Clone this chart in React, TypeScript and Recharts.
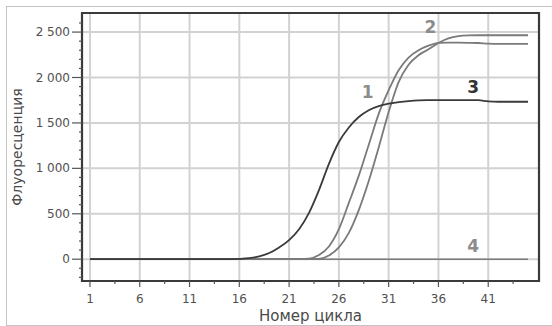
import { LineChart, Line, XAxis, YAxis, CartesianGrid, ReferenceArea, ReferenceDot, Label } from 'recharts';

// ── Data ─────────────────────────────────────────────────
const cycles = [
  1, 2, 3, 4, 5, 6, 7, 8, 9, 10, 11, 12, 13, 14, 15, 16, 17, 18, 19, 20, 21, 22, 23,
  24, 25, 26, 27, 28, 29, 30, 31, 32, 33, 34, 35, 36, 37, 38, 39, 40, 41, 42, 43, 44, 45,
];

// curve 1 (gray, earlier of the steep pair)
const curve1 = [
  0, 0, 0, 0, 0, 0, 0, 0, 0, 0, 0, 0, 0, 0, 0, 0, 0, 0, 0, 0, 0, 0, 5,
  45, 140, 330, 620, 920, 1260, 1600, 1860, 2080, 2220, 2300, 2350, 2382, 2385, 2383, 2382, 2380, 2372, 2370, 2370, 2370, 2370,
];

// curve 2 (gray, later of the steep pair, highest plateau)
const curve2 = [
  0, 0, 0, 0, 0, 0, 0, 0, 0, 0, 0, 0, 0, 0, 0, 0, 0, 0, 0, 0, 0, 0, 0,
  3, 40, 130, 290, 540, 860, 1230, 1620, 1950, 2140, 2245, 2310, 2380, 2430, 2455, 2463, 2465, 2465, 2465, 2465, 2465, 2465,
];

// curve 3 (dark, earliest)
const curve3 = [
  0, 0, 0, 0, 0, 0, 0, 0, 0, 0, 0, 0, 0, 0, 0, 4, 12, 30, 68, 130, 210, 330, 510,
  760, 1050, 1290, 1450, 1565, 1640, 1685, 1712, 1728, 1740, 1748, 1751, 1752, 1752, 1752, 1752, 1750, 1738, 1733, 1733, 1733, 1733,
];

// curve 4 (negative control)
const curve4 = [
  0, 0, 0, 0, 0, 0, 0, 0, 0, 0, 0, 0, 0, 0, 0, 0, 0, 0, 0, 0, 0, 0, 0,
  0, 0, 0, 0, 0, 0, 0, 0, 0, 0, 0, 0, 0, 0, 0, 0, 0, 0, 0, 0, 0, 0,
];

const xMajor = [1, 6, 11, 16, 21, 26, 31, 36, 41];
const xMinor = [3.5, 8.5, 13.5, 18.5, 23.5, 28.5, 33.5, 38.5, 43.5];
const yMajor = [0, 500, 1000, 1500, 2000, 2500];
const yMinor = [
  -200, -100, 100, 200, 300, 400, 600, 700, 800, 900, 1100, 1200, 1300, 1400,
  1600, 1700, 1800, 1900, 2100, 2200, 2300, 2400, 2600,
];

// curve number labels: [text, cycle, value, colour]
const curveLabels: [string, number, number, string][] = [
  ['1', 28.9, 1840, '#8c8c8c'],
  ['2', 35.2, 2560, '#8c8c8c'],
  ['3', 39.5, 1900, '#333333'],
  ['4', 39.5, 150, '#8c8c8c'],
];

const data = cycles.map((c, i) => ({
  cycle: c,
  c1: curve1[i],
  c2: curve2[i],
  c3: curve3[i],
  c4: curve4[i],
}));

const X_DOMAIN: [number, number] = [0.2, 46.1];
const Y_DOMAIN: [number, number] = [-240, 2710];

const FONT = '"DejaVu Sans", Verdana, sans-serif';
const TICK_SIZE = 10;
const TICK_MARGIN = 2;

const fmt = (v: number) =>
  v >= 1000 ? `${Math.floor(v / 1000)} ${String(v % 1000).padStart(3, '0')}` : String(v);

// ── Ticks (major + minor) ────────────────────────────────
function YTick({ x, y, payload }: any) {
  const v = payload.value as number;
  const major = yMajor.includes(v);
  const edge = x + TICK_SIZE + TICK_MARGIN;
  return (
    <g>
      <line x1={edge - (major ? 10 : 3)} x2={edge} y1={y} y2={y} stroke="#555" strokeWidth={1.2} />
      {major && (
        <text x={x} y={y} dy={4} textAnchor="end" fontSize={12} fill="#505050" fontFamily={FONT}>
          {fmt(v)}
        </text>
      )}
    </g>
  );
}

function XTick({ x, y, payload }: any) {
  const v = payload.value as number;
  const major = xMajor.includes(v);
  const edge = y - TICK_SIZE - TICK_MARGIN;
  return (
    <g>
      <line x1={x} x2={x} y1={edge} y2={edge + (major ? 6 : 3)} stroke="#555" strokeWidth={1.2} />
      {major && (
        <text x={x} y={y} dy={10} textAnchor="middle" fontSize={12} fill="#505050" fontFamily={FONT}>
          {v}
        </text>
      )}
    </g>
  );
}

// grid only on the major ticks (linear mapping of the plot area)
const vGrid = ({ offset }: any) =>
  xMajor.map((v) => offset.left + ((v - X_DOMAIN[0]) / (X_DOMAIN[1] - X_DOMAIN[0])) * offset.width);
const hGrid = ({ offset }: any) =>
  yMajor.map((v) => offset.top + ((Y_DOMAIN[1] - v) / (Y_DOMAIN[1] - Y_DOMAIN[0])) * offset.height);

// ── Component ────────────────────────────────────────────
export default function App() {
  return (
    <div style={{ position: 'absolute', left: 0, top: 0, width: 552, height: 326, background: '#fff' }}>
      <div
        style={{
          position: 'absolute',
          left: 6,
          top: 6,
          width: 560,
          height: 318,
          borderLeft: '1px solid #c4c4c4',
          borderTop: '1px solid #c4c4c4',
          borderBottom: '1px solid #c4c4c4',
        }}
      />
      <LineChart
        width={552}
        height={326}
        data={data}
        margin={{ top: 13, right: 13, bottom: 16, left: 12 }}
        style={{ position: 'absolute', left: 0, top: 0 }}
      >
        <CartesianGrid
          stroke="#d2d2d2"
          strokeWidth={2}
          verticalCoordinatesGenerator={vGrid}
          horizontalCoordinatesGenerator={hGrid}
        />
        <XAxis
          dataKey="cycle"
          type="number"
          domain={X_DOMAIN}
          ticks={[...xMajor, ...xMinor]}
          allowDataOverflow
          axisLine={false}
          tickLine={{ stroke: 'none' }}
          tickSize={TICK_SIZE}
          tickMargin={TICK_MARGIN}
          tick={<XTick />}
          height={29}
          interval={0}
        >
          <Label
            value="Номер цикла"
            position="bottom"
            offset={0}
            style={{ fontSize: 15, fill: '#4a4a4a', fontFamily: FONT }}
          />
        </XAxis>
        <YAxis
          type="number"
          domain={Y_DOMAIN}
          ticks={[...yMajor, ...yMinor]}
          allowDataOverflow
          axisLine={false}
          tickLine={{ stroke: 'none' }}
          tickSize={TICK_SIZE}
          tickMargin={TICK_MARGIN}
          tick={<YTick />}
          width={70}
          interval={0}
        >
          <Label
            value="Флуоресценция"
            angle={-90}
            position="insideLeft"
            offset={5}
            style={{ fontSize: 14, fill: '#4a4a4a', fontFamily: FONT, textAnchor: 'middle' }}
          />
        </YAxis>
        <ReferenceArea
          x1={X_DOMAIN[0]}
          x2={X_DOMAIN[1]}
          y1={Y_DOMAIN[0]}
          y2={Y_DOMAIN[1]}
          fill="none"
          stroke="#3a3a3a"
          strokeWidth={2.2}
        />
        <Line dataKey="c4" type="monotone" stroke="#7d7d7d" strokeWidth={1.5} dot={false} isAnimationActive={false} />
        <Line dataKey="c1" type="monotone" stroke="#7a7a7a" strokeWidth={1.8} dot={false} isAnimationActive={false} />
        <Line dataKey="c2" type="monotone" stroke="#7a7a7a" strokeWidth={1.8} dot={false} isAnimationActive={false} />
        <Line dataKey="c3" type="monotone" stroke="#3a3a3a" strokeWidth={1.8} dot={false} isAnimationActive={false} />
        {curveLabels.map(([text, cx, cy, color]) => (
          <ReferenceDot
            key={text}
            x={cx}
            y={cy}
            r={0}
            fill="none"
            stroke="none"
            label={{
              value: text,
              position: 'center',
              fontSize: 17,
              fontWeight: 'bold',
              fill: color,
              fontFamily: FONT,
            }}
          />
        ))}
      </LineChart>
    </div>
  );
}
